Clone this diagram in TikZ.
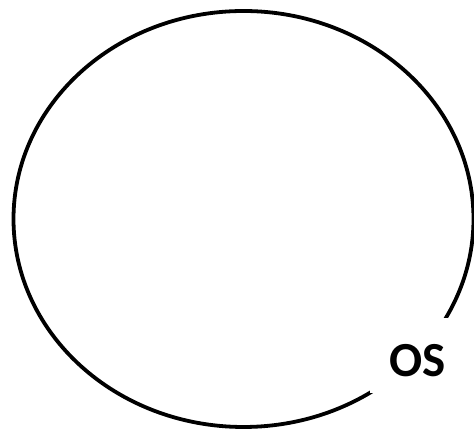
\documentclass[tikz,border=0pt]{standalone}
\usepackage{fontspec}
\setmainfont{Carlito}
\begin{document}
\begin{tikzpicture}[x=1pt,y=1pt,
  ring/.style={line width=3.8pt, draw=black},
  oslabel/.style={fill=white, inner sep=0pt, minimum width=96pt, minimum height=75pt,
    text height=43pt, text depth=0pt, font=\fontsize{49}{51}\selectfont\bfseries}]
\useasboundingbox (0,0) rectangle (474,430);
\draw[ring] (243.5,211) ellipse [x radius=230, y radius=208];
\node[oslabel] (os) at (418,74.5) {OS};
\end{tikzpicture}
\end{document}
